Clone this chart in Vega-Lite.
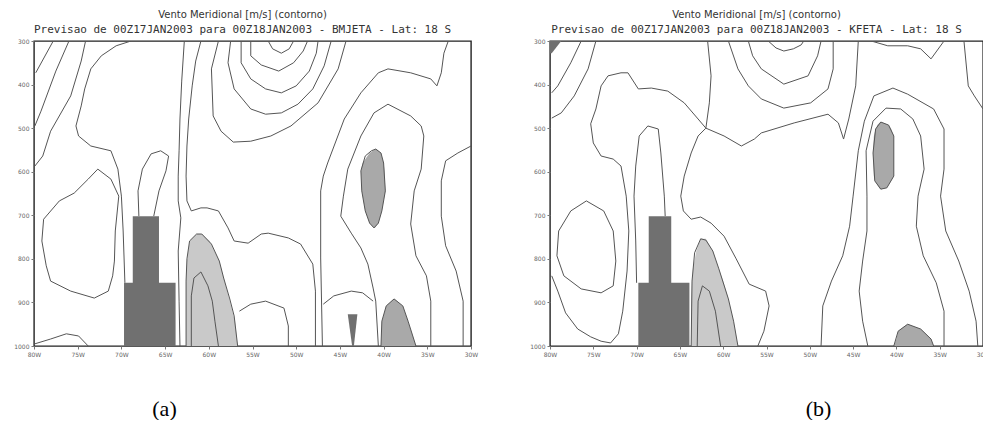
{
"$schema": "https://vega.github.io/schema/vega-lite/v6.json",
"background": "white",
"padding": {"left": 13, "top": 9, "right": 0, "bottom": 0},
"bounds": "flush",
"spacing": 79,
"config": {
 "view": {"stroke": "#222", "strokeWidth": 1.4},
 "axis": {"grid": false, "domain": false, "labelFont": "DejaVu Sans", "labelFontSize": 6, "labelColor": "#666", "tickColor": "#777", "tickSize": 3, "labelPadding": 2, "labelOverlap": false, "labelFlush": false},
 "title": {"font": "DejaVu Sans", "subtitleFont": "DejaVu Sans Mono", "fontSize": 10, "subtitleFontSize": 11, "fontWeight": "normal", "color": "#333", "subtitleColor": "#333", "subtitlePadding": 4, "offset": 3, "anchor": "middle", "dx": -10}
},
"datasets": {
 "la": [
  {"c":"a1","lon":-77.8,"p":300},{"c":"a1","lon":-79.8,"p":373},
  {"c":"a2","lon":-76.0,"p":300},{"c":"a2","lon":-77.5,"p":369},{"c":"a2","lon":-79.2,"p":461},{"c":"a2","lon":-79.9,"p":495},
  {"c":"a3","lon":-74.1,"p":300},{"c":"a3","lon":-74.6,"p":346},{"c":"a3","lon":-75.8,"p":426},{"c":"a3","lon":-78.1,"p":507},{"c":"a3","lon":-79.0,"p":564},{"c":"a3","lon":-79.9,"p":587},
  {"c":"a4","lon":-72.7,"p":594},{"c":"a4","lon":-71.2,"p":617},{"c":"a4","lon":-70.3,"p":656},{"c":"a4","lon":-70.7,"p":736},{"c":"a4","lon":-70.8,"p":805},{"c":"a4","lon":-71.0,"p":839},{"c":"a4","lon":-71.5,"p":874},{"c":"a4","lon":-73.1,"p":890},{"c":"a4","lon":-75.8,"p":874},{"c":"a4","lon":-78.1,"p":851},{"c":"a4","lon":-78.6,"p":816},{"c":"a4","lon":-79.1,"p":759},{"c":"a4","lon":-78.9,"p":709},{"c":"a4","lon":-77.1,"p":667},{"c":"a4","lon":-75.4,"p":649},{"c":"a4","lon":-73.8,"p":617},{"c":"a4","lon":-72.7,"p":594},
  {"c":"a5","lon":-68.9,"p":300},{"c":"a5","lon":-70.6,"p":311},{"c":"a5","lon":-72.3,"p":334},{"c":"a5","lon":-73.5,"p":364},{"c":"a5","lon":-74.2,"p":410},{"c":"a5","lon":-74.6,"p":449},{"c":"a5","lon":-75.2,"p":495},{"c":"a5","lon":-74.9,"p":518},{"c":"a5","lon":-73.5,"p":541},{"c":"a5","lon":-71.2,"p":552},{"c":"a5","lon":-70.4,"p":594},{"c":"a5","lon":-70.0,"p":656},{"c":"a5","lon":-69.8,"p":736},{"c":"a5","lon":-69.6,"p":855},
  {"c":"a6","lon":-62.8,"p":300},{"c":"a6","lon":-63.1,"p":392},{"c":"a6","lon":-63.3,"p":479},{"c":"a6","lon":-63.4,"p":552},{"c":"a6","lon":-63.5,"p":610},{"c":"a6","lon":-63.5,"p":667},{"c":"a6","lon":-63.2,"p":706},{"c":"a6","lon":-63.5,"p":782},{"c":"a6","lon":-63.4,"p":897},{"c":"a6","lon":-63.3,"p":1000},
  {"c":"a7","lon":-68.0,"p":702},{"c":"a7","lon":-68.1,"p":644},{"c":"a7","lon":-67.6,"p":594},{"c":"a7","lon":-66.6,"p":559},{"c":"a7","lon":-65.5,"p":552},{"c":"a7","lon":-64.6,"p":564},{"c":"a7","lon":-64.9,"p":598},{"c":"a7","lon":-65.7,"p":644},{"c":"a7","lon":-66.3,"p":702},
  {"c":"a8","lon":-60.9,"p":300},{"c":"a8","lon":-61.5,"p":346},{"c":"a8","lon":-61.9,"p":403},{"c":"a8","lon":-62.3,"p":479},{"c":"a8","lon":-62.5,"p":541},{"c":"a8","lon":-62.6,"p":610},{"c":"a8","lon":-62.5,"p":667},{"c":"a8","lon":-62.0,"p":690},{"c":"a8","lon":-60.9,"p":683},{"c":"a8","lon":-60.2,"p":683},{"c":"a8","lon":-58.9,"p":690},{"c":"a8","lon":-57.8,"p":729},{"c":"a8","lon":-57.1,"p":759},{"c":"a8","lon":-55.5,"p":764},{"c":"a8","lon":-54.0,"p":743},{"c":"a8","lon":-53.2,"p":741},{"c":"a8","lon":-50.9,"p":752},{"c":"a8","lon":-49.5,"p":766},{"c":"a8","lon":-48.1,"p":812},{"c":"a8","lon":-47.8,"p":874},{"c":"a8","lon":-47.8,"p":1000},
  {"c":"a9","lon":-79.9,"p":995},{"c":"a9","lon":-78.1,"p":984},{"c":"a9","lon":-76.3,"p":972},{"c":"a9","lon":-74.9,"p":977},{"c":"a9","lon":-73.8,"p":1000},
  {"c":"a10","lon":-62.6,"p":1000},{"c":"a10","lon":-62.6,"p":851},{"c":"a10","lon":-62.5,"p":800},{"c":"a10","lon":-62.2,"p":759},{"c":"a10","lon":-61.4,"p":743},{"c":"a10","lon":-60.8,"p":743},{"c":"a10","lon":-59.7,"p":766},{"c":"a10","lon":-58.8,"p":805},{"c":"a10","lon":-58.3,"p":844},{"c":"a10","lon":-57.6,"p":892},{"c":"a10","lon":-57.1,"p":931},{"c":"a10","lon":-56.7,"p":1000},
  {"c":"a11","lon":-62.0,"p":1000},{"c":"a11","lon":-62.0,"p":885},{"c":"a11","lon":-61.7,"p":844},{"c":"a11","lon":-60.9,"p":830},{"c":"a11","lon":-60.1,"p":862},{"c":"a11","lon":-59.6,"p":897},{"c":"a11","lon":-59.3,"p":943},{"c":"a11","lon":-58.9,"p":1000},
  {"c":"a12","lon":-53.2,"p":300},{"c":"a12","lon":-52.7,"p":318},{"c":"a12","lon":-51.7,"p":328},{"c":"a12","lon":-50.8,"p":318},{"c":"a12","lon":-50.3,"p":300},
  {"c":"a13","lon":-55.2,"p":300},{"c":"a13","lon":-55.2,"p":334},{"c":"a13","lon":-54.0,"p":355},{"c":"a13","lon":-52.0,"p":369},{"c":"a13","lon":-50.3,"p":350},{"c":"a13","lon":-49.2,"p":323},{"c":"a13","lon":-48.7,"p":300},
  {"c":"a14","lon":-56.3,"p":300},{"c":"a14","lon":-56.3,"p":350},{"c":"a14","lon":-55.2,"p":387},{"c":"a14","lon":-53.5,"p":410},{"c":"a14","lon":-51.7,"p":419},{"c":"a14","lon":-50.0,"p":403},{"c":"a14","lon":-48.5,"p":369},{"c":"a14","lon":-47.7,"p":328},{"c":"a14","lon":-47.5,"p":300},
  {"c":"a15","lon":-57.5,"p":300},{"c":"a15","lon":-57.8,"p":350},{"c":"a15","lon":-57.1,"p":410},{"c":"a15","lon":-55.2,"p":456},{"c":"a15","lon":-53.5,"p":468},{"c":"a15","lon":-51.7,"p":465},{"c":"a15","lon":-49.8,"p":445},{"c":"a15","lon":-48.1,"p":410},{"c":"a15","lon":-46.8,"p":357},{"c":"a15","lon":-46.0,"p":300},
  {"c":"a16","lon":-58.9,"p":300},{"c":"a16","lon":-59.7,"p":364},{"c":"a16","lon":-59.5,"p":472},{"c":"a16","lon":-58.6,"p":507},{"c":"a16","lon":-57.2,"p":532},{"c":"a16","lon":-55.2,"p":530},{"c":"a16","lon":-52.9,"p":518},{"c":"a16","lon":-50.6,"p":495},{"c":"a16","lon":-47.5,"p":442},{"c":"a16","lon":-45.2,"p":364},{"c":"a16","lon":-44.3,"p":300},
  {"c":"a17","lon":-32.6,"p":300},{"c":"a17","lon":-33.1,"p":328},{"c":"a17","lon":-33.4,"p":373},{"c":"a17","lon":-33.9,"p":403},{"c":"a17","lon":-34.6,"p":387},{"c":"a17","lon":-36.9,"p":373},{"c":"a17","lon":-39.5,"p":364},{"c":"a17","lon":-40.6,"p":373},{"c":"a17","lon":-42.6,"p":419},{"c":"a17","lon":-44.5,"p":479},{"c":"a17","lon":-46.4,"p":580},{"c":"a17","lon":-46.9,"p":610},{"c":"a17","lon":-47.2,"p":644},{"c":"a17","lon":-47.2,"p":798},{"c":"a17","lon":-47.0,"p":1000},
  {"c":"a18","lon":-40.6,"p":1000},{"c":"a18","lon":-40.9,"p":897},{"c":"a18","lon":-41.2,"p":867},{"c":"a18","lon":-41.8,"p":812},{"c":"a18","lon":-42.6,"p":775},{"c":"a18","lon":-43.7,"p":741},{"c":"a18","lon":-44.9,"p":702},{"c":"a18","lon":-44.6,"p":656},{"c":"a18","lon":-44.1,"p":594},{"c":"a18","lon":-42.6,"p":518},{"c":"a18","lon":-41.1,"p":465},{"c":"a18","lon":-39.5,"p":445},{"c":"a18","lon":-36.9,"p":472},{"c":"a18","lon":-35.7,"p":495},{"c":"a18","lon":-35.4,"p":518},{"c":"a18","lon":-35.7,"p":594},{"c":"a18","lon":-36.5,"p":644},{"c":"a18","lon":-36.9,"p":720},{"c":"a18","lon":-36.3,"p":793},{"c":"a18","lon":-35.1,"p":839},{"c":"a18","lon":-34.6,"p":897},{"c":"a18","lon":-34.6,"p":1000},
  {"c":"a19","lon":-30.0,"p":541},{"c":"a19","lon":-31.5,"p":557},{"c":"a19","lon":-32.9,"p":575},{"c":"a19","lon":-33.4,"p":621},{"c":"a19","lon":-33.4,"p":702},{"c":"a19","lon":-32.9,"p":770},{"c":"a19","lon":-31.7,"p":828},{"c":"a19","lon":-30.9,"p":897},{"c":"a19","lon":-30.9,"p":1000},
  {"c":"a20","lon":-46.9,"p":904},{"c":"a20","lon":-45.7,"p":885},{"c":"a20","lon":-43.7,"p":874},{"c":"a20","lon":-42.4,"p":878},{"c":"a20","lon":-41.2,"p":897},
  {"c":"a21","lon":-56.5,"p":920},{"c":"a21","lon":-55.2,"p":904},{"c":"a21","lon":-53.5,"p":897},{"c":"a21","lon":-51.4,"p":913},{"c":"a21","lon":-50.9,"p":954},{"c":"a21","lon":-50.9,"p":1000},
  {"c":"a22","lon":-40.3,"p":1000},{"c":"a22","lon":-40.2,"p":943},{"c":"a22","lon":-39.7,"p":908},{"c":"a22","lon":-38.8,"p":892},{"c":"a22","lon":-37.8,"p":908},{"c":"a22","lon":-37.2,"p":943},{"c":"a22","lon":-36.3,"p":1000},
  {"c":"a23","lon":-40.9,"p":548},{"c":"a23","lon":-40.3,"p":557},{"c":"a23","lon":-40.0,"p":580},{"c":"a23","lon":-39.8,"p":644},{"c":"a23","lon":-40.2,"p":690},{"c":"a23","lon":-40.6,"p":718},{"c":"a23","lon":-41.1,"p":729},{"c":"a23","lon":-41.6,"p":718},{"c":"a23","lon":-42.1,"p":690},{"c":"a23","lon":-42.5,"p":644},{"c":"a23","lon":-42.6,"p":598},{"c":"a23","lon":-42.1,"p":564},{"c":"a23","lon":-41.4,"p":552},{"c":"a23","lon":-40.9,"p":548}
 ],
 "lb": [
  {"c":"b1","lon":-76.4,"p":300},{"c":"b1","lon":-77.6,"p":350},{"c":"b1","lon":-79.1,"p":403},{"c":"b1","lon":-79.8,"p":419},
  {"c":"b2","lon":-74.7,"p":300},{"c":"b2","lon":-75.6,"p":364},{"c":"b2","lon":-77.2,"p":426},{"c":"b2","lon":-78.7,"p":465},{"c":"b2","lon":-79.8,"p":477},
  {"c":"b3","lon":-79.8,"p":839},{"c":"b3","lon":-79.1,"p":874},{"c":"b3","lon":-78.2,"p":924},{"c":"b3","lon":-76.8,"p":961},{"c":"b3","lon":-75.3,"p":979},{"c":"b3","lon":-74.1,"p":989},{"c":"b3","lon":-73.0,"p":993},{"c":"b3","lon":-72.1,"p":972},{"c":"b3","lon":-71.6,"p":920},{"c":"b3","lon":-71.1,"p":828},{"c":"b3","lon":-70.9,"p":736},{"c":"b3","lon":-71.2,"p":656},{"c":"b3","lon":-71.8,"p":587},{"c":"b3","lon":-72.7,"p":571},{"c":"b3","lon":-74.1,"p":564},{"c":"b3","lon":-75.0,"p":534},{"c":"b3","lon":-75.3,"p":490},{"c":"b3","lon":-74.7,"p":456},{"c":"b3","lon":-74.1,"p":403},{"c":"b3","lon":-73.3,"p":380},{"c":"b3","lon":-71.8,"p":373},{"c":"b3","lon":-71.0,"p":373},{"c":"b3","lon":-69.8,"p":410},{"c":"b3","lon":-68.3,"p":408},{"c":"b3","lon":-66.4,"p":415},{"c":"b3","lon":-64.5,"p":442},{"c":"b3","lon":-62.9,"p":479},{"c":"b3","lon":-62.0,"p":500},{"c":"b3","lon":-62.9,"p":518},{"c":"b3","lon":-63.7,"p":557},{"c":"b3","lon":-64.5,"p":610},{"c":"b3","lon":-64.9,"p":656},{"c":"b3","lon":-64.6,"p":690},{"c":"b3","lon":-63.7,"p":709},{"c":"b3","lon":-62.6,"p":704},{"c":"b3","lon":-61.4,"p":718},{"c":"b3","lon":-59.9,"p":748},{"c":"b3","lon":-58.5,"p":800},{"c":"b3","lon":-57.0,"p":858},{"c":"b3","lon":-55.1,"p":874},{"c":"b3","lon":-54.7,"p":908},{"c":"b3","lon":-55.3,"p":966},{"c":"b3","lon":-56.0,"p":1000},
  {"c":"b4","lon":-75.8,"p":667},{"c":"b4","lon":-77.6,"p":690},{"c":"b4","lon":-79.0,"p":736},{"c":"b4","lon":-79.2,"p":793},{"c":"b4","lon":-78.4,"p":839},{"c":"b4","lon":-76.4,"p":869},{"c":"b4","lon":-74.1,"p":878},{"c":"b4","lon":-72.7,"p":862},{"c":"b4","lon":-72.4,"p":805},{"c":"b4","lon":-72.7,"p":736},{"c":"b4","lon":-73.8,"p":690},{"c":"b4","lon":-75.8,"p":667},
  {"c":"b5","lon":-70.0,"p":855},{"c":"b5","lon":-70.1,"p":759},{"c":"b5","lon":-70.3,"p":656},{"c":"b5","lon":-70.1,"p":587},{"c":"b5","lon":-69.7,"p":518},{"c":"b5","lon":-68.7,"p":495},{"c":"b5","lon":-67.5,"p":502},{"c":"b5","lon":-67.2,"p":557},{"c":"b5","lon":-66.8,"p":656},{"c":"b5","lon":-66.7,"p":702},
  {"c":"b6","lon":-61.8,"p":300},{"c":"b6","lon":-61.4,"p":380},{"c":"b6","lon":-61.6,"p":442},{"c":"b6","lon":-62.0,"p":500},{"c":"b6","lon":-59.9,"p":518},{"c":"b6","lon":-57.9,"p":541},{"c":"b6","lon":-56.4,"p":525},{"c":"b6","lon":-55.6,"p":511},{"c":"b6","lon":-51.8,"p":488},{"c":"b6","lon":-47.9,"p":468},{"c":"b6","lon":-46.7,"p":488},{"c":"b6","lon":-46.1,"p":525},{"c":"b6","lon":-45.5,"p":479},{"c":"b6","lon":-44.7,"p":403},{"c":"b6","lon":-44.4,"p":300},
  {"c":"b7","lon":-54.8,"p":300},{"c":"b7","lon":-53.9,"p":316},{"c":"b7","lon":-53.0,"p":323},{"c":"b7","lon":-51.9,"p":318},{"c":"b7","lon":-51.0,"p":309},{"c":"b7","lon":-50.7,"p":300},
  {"c":"b8","lon":-57.1,"p":300},{"c":"b8","lon":-56.6,"p":334},{"c":"b8","lon":-55.6,"p":364},{"c":"b8","lon":-53.0,"p":399},{"c":"b8","lon":-50.2,"p":380},{"c":"b8","lon":-49.1,"p":334},{"c":"b8","lon":-48.7,"p":300},
  {"c":"b9","lon":-59.4,"p":300},{"c":"b9","lon":-58.3,"p":364},{"c":"b9","lon":-57.1,"p":403},{"c":"b9","lon":-55.6,"p":433},{"c":"b9","lon":-53.0,"p":454},{"c":"b9","lon":-49.9,"p":442},{"c":"b9","lon":-47.9,"p":410},{"c":"b9","lon":-47.3,"p":364},{"c":"b9","lon":-47.3,"p":300},
  {"c":"b10","lon":-42.9,"p":300},{"c":"b10","lon":-41.0,"p":311},{"c":"b10","lon":-38.7,"p":311},{"c":"b10","lon":-37.2,"p":318},{"c":"b10","lon":-36.0,"p":341},{"c":"b10","lon":-34.5,"p":300},
  {"c":"b11","lon":-32.2,"p":300},{"c":"b11","lon":-31.7,"p":403},{"c":"b11","lon":-31.0,"p":426},{"c":"b11","lon":-30.0,"p":456},
  {"c":"b12","lon":-48.7,"p":1000},{"c":"b12","lon":-48.5,"p":908},{"c":"b12","lon":-47.5,"p":851},{"c":"b12","lon":-46.2,"p":793},{"c":"b12","lon":-45.4,"p":725},{"c":"b12","lon":-45.0,"p":656},{"c":"b12","lon":-44.4,"p":552},{"c":"b12","lon":-43.7,"p":484},{"c":"b12","lon":-42.6,"p":426},{"c":"b12","lon":-40.4,"p":408},{"c":"b12","lon":-38.7,"p":422},{"c":"b12","lon":-35.7,"p":456},{"c":"b12","lon":-34.5,"p":502},{"c":"b12","lon":-34.5,"p":594},{"c":"b12","lon":-34.9,"p":656},{"c":"b12","lon":-34.3,"p":736},{"c":"b12","lon":-32.8,"p":805},{"c":"b12","lon":-31.6,"p":874},{"c":"b12","lon":-30.8,"p":943},{"c":"b12","lon":-30.6,"p":1000},
  {"c":"b13","lon":-43.3,"p":1000},{"c":"b13","lon":-43.9,"p":943},{"c":"b13","lon":-44.3,"p":874},{"c":"b13","lon":-43.9,"p":805},{"c":"b13","lon":-43.4,"p":736},{"c":"b13","lon":-43.4,"p":656},{"c":"b13","lon":-43.5,"p":552},{"c":"b13","lon":-42.7,"p":484},{"c":"b13","lon":-41.2,"p":454},{"c":"b13","lon":-39.5,"p":456},{"c":"b13","lon":-38.1,"p":479},{"c":"b13","lon":-37.2,"p":518},{"c":"b13","lon":-36.8,"p":594},{"c":"b13","lon":-37.5,"p":656},{"c":"b13","lon":-37.7,"p":725},{"c":"b13","lon":-36.9,"p":793},{"c":"b13","lon":-35.4,"p":855},{"c":"b13","lon":-34.5,"p":920},{"c":"b13","lon":-34.5,"p":1000},
  {"c":"b14","lon":-40.3,"p":1000},{"c":"b14","lon":-39.8,"p":966},{"c":"b14","lon":-38.7,"p":950},{"c":"b14","lon":-37.2,"p":961},{"c":"b14","lon":-36.0,"p":984},{"c":"b14","lon":-35.7,"p":1000},
  {"c":"b15","lon":-41.8,"p":486},{"c":"b15","lon":-40.9,"p":493},{"c":"b15","lon":-40.3,"p":518},{"c":"b15","lon":-40.3,"p":610},{"c":"b15","lon":-41.1,"p":637},{"c":"b15","lon":-41.8,"p":640},{"c":"b15","lon":-42.5,"p":621},{"c":"b15","lon":-42.7,"p":557},{"c":"b15","lon":-42.4,"p":502},{"c":"b15","lon":-41.8,"p":486},
  {"c":"b16","lon":-63.7,"p":1000},{"c":"b16","lon":-63.6,"p":851},{"c":"b16","lon":-63.3,"p":786},{"c":"b16","lon":-62.6,"p":754},{"c":"b16","lon":-62.0,"p":757},{"c":"b16","lon":-61.2,"p":782},{"c":"b16","lon":-60.5,"p":823},{"c":"b16","lon":-59.4,"p":892},{"c":"b16","lon":-58.8,"p":943},{"c":"b16","lon":-58.3,"p":1000},
  {"c":"b17","lon":-63.0,"p":1000},{"c":"b17","lon":-62.9,"p":897},{"c":"b17","lon":-62.4,"p":862},{"c":"b17","lon":-61.6,"p":874},{"c":"b17","lon":-60.9,"p":920},{"c":"b17","lon":-60.3,"p":1000}
 ],
 "fa": [
  {"c":"f1","k":"light","p":743,"lo":-61.4,"hi":-60.8},{"c":"f1","k":"light","p":759,"lo":-62.2,"hi":-59.9},{"c":"f1","k":"light","p":805,"lo":-62.5,"hi":-58.8},{"c":"f1","k":"light","p":851,"lo":-62.6,"hi":-58.2},{"c":"f1","k":"light","p":897,"lo":-62.6,"hi":-57.6},{"c":"f1","k":"light","p":943,"lo":-62.6,"hi":-57.0},{"c":"f1","k":"light","p":1000,"lo":-62.6,"hi":-56.7},
  {"c":"f2","k":"medium","p":548,"lo":-40.95,"hi":-40.85},{"c":"f2","k":"medium","p":557,"lo":-41.6,"hi":-40.3},{"c":"f2","k":"medium","p":580,"lo":-42.4,"hi":-40.0},{"c":"f2","k":"medium","p":598,"lo":-42.6,"hi":-39.9},{"c":"f2","k":"medium","p":644,"lo":-42.5,"hi":-39.8},{"c":"f2","k":"medium","p":690,"lo":-42.1,"hi":-40.2},{"c":"f2","k":"medium","p":718,"lo":-41.6,"hi":-40.6},{"c":"f2","k":"medium","p":729,"lo":-41.1,"hi":-41.0},
  {"c":"f3","k":"medium","p":892,"lo":-38.85,"hi":-38.75},{"c":"f3","k":"medium","p":908,"lo":-39.7,"hi":-37.8},{"c":"f3","k":"medium","p":943,"lo":-40.2,"hi":-37.2},{"c":"f3","k":"medium","p":1000,"lo":-40.3,"hi":-36.3},
  {"c":"f4","k":"topo","p":927,"lo":-44.1,"hi":-43.0},{"c":"f4","k":"topo","p":1000,"lo":-43.6,"hi":-43.4}
 ],
 "fb": [
  {"c":"g1","k":"light","p":754,"lo":-62.6,"hi":-62.0},{"c":"g1","k":"light","p":782,"lo":-63.1,"hi":-61.2},{"c":"g1","k":"light","p":823,"lo":-63.5,"hi":-60.5},{"c":"g1","k":"light","p":851,"lo":-63.6,"hi":-60.0},{"c":"g1","k":"light","p":892,"lo":-63.7,"hi":-59.4},{"c":"g1","k":"light","p":943,"lo":-63.7,"hi":-58.8},{"c":"g1","k":"light","p":1000,"lo":-63.7,"hi":-58.3},
  {"c":"g2","k":"medium","p":486,"lo":-41.85,"hi":-41.75},{"c":"g2","k":"medium","p":493,"lo":-42.2,"hi":-40.9},{"c":"g2","k":"medium","p":502,"lo":-42.4,"hi":-40.6},{"c":"g2","k":"medium","p":518,"lo":-42.6,"hi":-40.3},{"c":"g2","k":"medium","p":557,"lo":-42.7,"hi":-40.3},{"c":"g2","k":"medium","p":610,"lo":-42.6,"hi":-40.3},{"c":"g2","k":"medium","p":621,"lo":-42.5,"hi":-40.6},{"c":"g2","k":"medium","p":637,"lo":-42.0,"hi":-41.1},{"c":"g2","k":"medium","p":640,"lo":-41.85,"hi":-41.75},
  {"c":"g3","k":"medium","p":950,"lo":-38.75,"hi":-38.65},{"c":"g3","k":"medium","p":961,"lo":-39.5,"hi":-37.2},{"c":"g3","k":"medium","p":966,"lo":-39.8,"hi":-36.9},{"c":"g3","k":"medium","p":984,"lo":-40.0,"hi":-36.0},{"c":"g3","k":"medium","p":1000,"lo":-40.3,"hi":-35.7},
  {"c":"g4","k":"topo","p":300,"lo":-80,"hi":-78.7},{"c":"g4","k":"topo","p":328,"lo":-80,"hi":-79.8}
 ],
 "ta": [{"lo":-68.7,"hi":-65.7,"top":702},{"lo":-69.7,"hi":-63.8,"top":855}],
 "tb": [{"lo":-68.6,"hi":-66.0,"top":702},{"lo":-69.8,"hi":-63.9,"top":855}]
},
"hconcat": [
 {
  "width": 437, "height": 305,
  "title": {"text": "Vento Meridional [m/s] (contorno)", "subtitle": "Previsao de 00Z17JAN2003 para 00Z18JAN2003 - BMJETA - Lat: 18 S"},
  "layer": [
   {"data": {"name": "fa"}, "mark": {"type": "area", "orient": "horizontal", "clip": true},
    "encoding": {
     "y": {"field": "p", "type": "quantitative", "title": null, "scale": {"domain": [300, 1000], "reverse": true, "nice": false, "zero": false}, "axis": {"values": [300,350,400,450,500,550,600,650,700,750,800,850,900,950,1000], "format": "d"}},
     "x": {"field": "lo", "type": "quantitative", "title": "(a)", "scale": {"domain": [-80, -30], "nice": false, "zero": false}, "axis": {"values": [-80,-75,-70,-65,-60,-55,-50,-45,-40,-35,-30], "labelExpr": "abs(datum.value) + 'W'", "titleFont": "Liberation Serif", "titleFontSize": 22, "titleFontWeight": "normal", "titleColor": "#000", "titleX": 130, "titleY": 62, "titleBaseline": "middle", "titleAlign": "center"}},
     "x2": {"field": "hi"},
     "detail": {"field": "c"},
     "fill": {"field": "k", "type": "nominal", "scale": {"domain": ["light", "medium", "topo"], "range": ["#c9c9c9", "#a9a9a9", "#707070"]}, "legend": null}
    }},
   {"data": {"name": "la"}, "mark": {"type": "line", "color": "#555", "strokeWidth": 1, "clip": true},
    "encoding": {
     "x": {"field": "lon", "type": "quantitative", "title": "(a)"},
     "y": {"field": "p", "type": "quantitative", "title": null},
     "detail": {"field": "c"},
     "order": {"value": null}
    }},
   {"data": {"name": "ta"}, "mark": {"type": "rect", "color": "#707070"},
    "encoding": {
     "x": {"field": "lo", "type": "quantitative", "title": "(a)"},
     "x2": {"field": "hi"},
     "y": {"field": "top", "type": "quantitative", "title": null},
     "y2": {"datum": 1000}
    }}
  ]
 },
 {
  "width": 433, "height": 305,
  "title": {"text": "Vento Meridional [m/s] (contorno)", "subtitle": "Previsao de 00Z17JAN2003 para 00Z18JAN2003 - KFETA - Lat: 18 S"},
  "layer": [
   {"data": {"name": "fb"}, "mark": {"type": "area", "orient": "horizontal", "clip": true},
    "encoding": {
     "y": {"field": "p", "type": "quantitative", "title": null, "scale": {"domain": [300, 1000], "reverse": true, "nice": false, "zero": false}, "axis": {"values": [300,350,400,450,500,550,600,650,700,750,800,850,900,950,1000], "format": "d"}},
     "x": {"field": "lo", "type": "quantitative", "title": "(b)", "scale": {"domain": [-80, -30], "nice": false, "zero": false}, "axis": {"values": [-80,-75,-70,-65,-60,-55,-50,-45,-40,-35,-30], "labelExpr": "abs(datum.value) + 'W'", "titleFont": "Liberation Serif", "titleFontSize": 22, "titleFontWeight": "normal", "titleColor": "#000", "titleX": 268, "titleY": 62, "titleBaseline": "middle", "titleAlign": "center"}},
     "x2": {"field": "hi"},
     "detail": {"field": "c"},
     "fill": {"field": "k", "type": "nominal", "scale": {"domain": ["light", "medium", "topo"], "range": ["#c9c9c9", "#a9a9a9", "#707070"]}, "legend": null}
    }},
   {"data": {"name": "lb"}, "mark": {"type": "line", "color": "#555", "strokeWidth": 1, "clip": true},
    "encoding": {
     "x": {"field": "lon", "type": "quantitative", "title": "(b)"},
     "y": {"field": "p", "type": "quantitative", "title": null},
     "detail": {"field": "c"},
     "order": {"value": null}
    }},
   {"data": {"name": "tb"}, "mark": {"type": "rect", "color": "#707070"},
    "encoding": {
     "x": {"field": "lo", "type": "quantitative", "title": "(b)"},
     "x2": {"field": "hi"},
     "y": {"field": "top", "type": "quantitative", "title": null},
     "y2": {"datum": 1000}
    }}
  ]
 }
]
}
